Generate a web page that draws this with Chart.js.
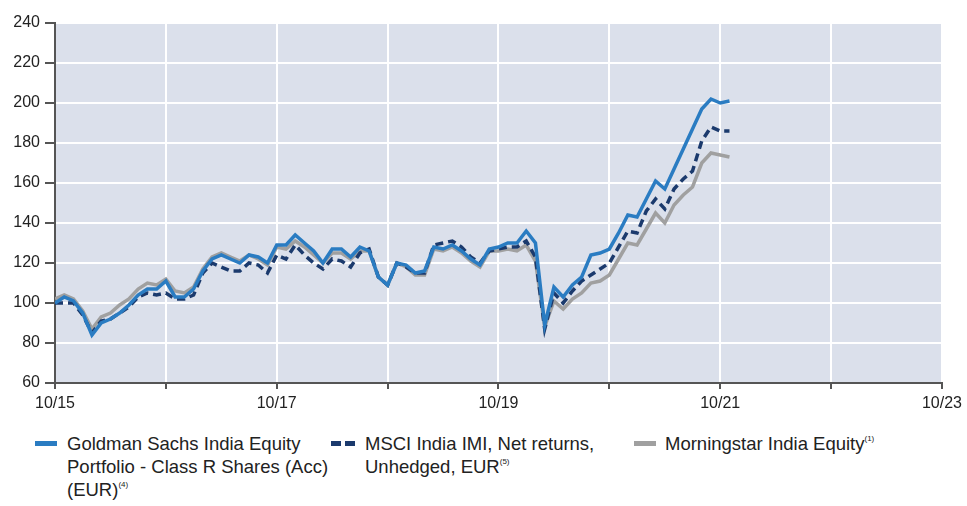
<!DOCTYPE html>
<html>
<head>
<meta charset="utf-8">
<script src="https://cdn.jsdelivr.net/npm/chart.js@4.4.0/dist/chart.umd.min.js"></script>
<style>
  body { margin: 0; background: #fff; }
  #wrap { position: relative; width: 967px; height: 506px; }
  #legend { position: absolute; left: 0; top: 432px; width: 967px; font-family: "Liberation Sans Narrow", "Liberation Sans", sans-serif; font-size: 18.5px; color: #222; }
  .item { position: absolute; top: 0; line-height: 23px; }
  .item sup { font-size: 8px; vertical-align: 9px; line-height: 0; }
  .swatch { position: absolute; top: 9px; height: 5px; }
</style>
</head>
<body>
<div id="wrap">
  <canvas id="canvas" width="967" height="420"></canvas>
  <div id="legend">
    <div class="swatch" style="left:35px;width:22px;background:#2a7cc2"></div>
    <div class="item" style="left:67px">Goldman Sachs India Equity<br>Portfolio - Class R Shares (Acc)<br>(EUR)<sup>(4)</sup></div>
    <div class="swatch" style="left:331px;width:10px;background:#1b3a6d"></div>
    <div class="swatch" style="left:345px;width:10px;background:#1b3a6d"></div>
    <div class="item" style="left:365px">MSCI India IMI, Net returns,<br>Unhedged, EUR<sup>(5)</sup></div>
    <div class="swatch" style="left:634px;width:22px;background:#a0a0a0"></div>
    <div class="item" style="left:665px">Morningstar India Equity<sup>(1)</sup></div>
  </div>
</div>
<script>
// monthly values, first point = 10/15, last = 11/21
const tickLabels = ['10/15', '10/17', '10/19', '10/21', '10/23']

const goldman = [100, 103, 101, 95, 84, 90, 92, 95, 99, 104, 107, 107,
  111, 103, 103, 107, 116, 122, 124, 122, 120, 124, 123, 120,
  129, 129, 134, 130, 126, 120, 127, 127, 123, 128, 126, 113,
  109, 120, 119, 115, 116, 128, 127, 129, 126, 122, 119, 127,
  128, 130, 130, 136, 130, 89, 108, 103, 109, 113, 124, 125,
  127, 135, 144, 143, 152, 161, 157, 167, 177, 187, 197, 202,
  200, 201]

const msci = [100, 100, 100, 94, 85, 91, 92, 95, 98, 103, 105, 104,
  105, 102, 102, 104, 115, 120, 118, 116, 116, 120, 119, 115,
  124, 122, 129, 124, 120, 117, 122, 121, 118, 125, 127, 113,
  109, 120, 118, 115, 115, 129, 130, 131, 128, 123, 120, 126,
  127, 128, 128, 131, 123, 87, 105, 100, 106, 111, 114, 117,
  120, 128, 136, 135, 146, 152, 147, 157, 162, 166, 181, 188,
  186, 186]

const morningstar = [102, 104, 102, 96, 87, 93, 95, 99, 102, 107, 110, 109,
  112, 106, 105, 108, 117, 123, 125, 123, 121, 124, 122, 119,
  128, 127, 131, 128, 124, 120, 125, 125, 122, 126, 126, 113,
  109, 120, 118, 114, 114, 127, 126, 128, 125, 121, 118, 126,
  126, 127, 126, 129, 121, 88, 101, 97, 102, 105, 110, 111,
  114, 122, 130, 129, 137, 145, 140, 149, 154, 158, 170, 175,
  174, 173]

function toPoints(arr) {
  return arr.map(function (v, i) { return { x: i, y: v } })
}

const plotBg = {
  id: 'plotBg',
  beforeDraw: function (chart) {
    const a = chart.chartArea
    const ctx = chart.ctx
    ctx.save()
    ctx.fillStyle = '#dbe0eb'
    ctx.fillRect(a.left, a.top, a.right - a.left, a.bottom - a.top)
    ctx.restore()
  }
}

const tickFont = { family: "'Liberation Sans Narrow', 'Liberation Sans', sans-serif", size: 16 }

const data = {
  datasets: [
    {
      label: 'Goldman Sachs India Equity Portfolio - Class R Shares (Acc) (EUR)',
      data: toPoints(goldman),
      borderColor: '#2a7cc2',
      borderWidth: 3.5,
      pointRadius: 0,
      order: 1,
    },
    {
      label: 'MSCI India IMI, Net returns, Unhedged, EUR',
      data: toPoints(msci),
      borderColor: '#1b3a6d',
      borderWidth: 3.5,
      borderDash: [8, 5],
      pointRadius: 0,
      order: 2,
    },
    {
      label: 'Morningstar India Equity',
      data: toPoints(morningstar),
      borderColor: '#a0a0a0',
      borderWidth: 3.5,
      pointRadius: 0,
      order: 3,
    },
  ],
}

const config = {
  type: 'line',
  data: data,
  options: {
    responsive: false,
    animation: false,
    layout: { padding: { top: 23, right: 22, left: 0, bottom: 0 } },
    plugins: { legend: { display: false }, tooltip: { enabled: false } },
    scales: {
      x: {
        type: 'linear',
        min: 0,
        max: 96,
        afterFit: function (s) { s.height = 37 },
        ticks: {
          stepSize: 12,
          autoSkip: false,
          maxRotation: 0,
          padding: 5,
          color: '#222',
          font: tickFont,
          callback: function (v) { return v % 24 === 0 ? tickLabels[v / 24] : '' }
        },
        grid: { color: '#ffffff', lineWidth: 2, tickColor: '#555', tickLength: 6, drawTicks: true },
        border: { display: true, color: '#555', width: 2 },
      },
      y: {
        min: 60,
        max: 240,
        afterFit: function (s) { s.width = 55 },
        ticks: { stepSize: 20, padding: 5, color: '#222', font: tickFont },
        grid: { color: '#ffffff', lineWidth: 2, tickColor: '#555', tickLength: 10, drawTicks: true },
        border: { display: true, color: '#555', width: 2 },
      },
    },
  },
  plugins: [plotBg],
}

const canvas = document.getElementById('canvas')
const chart = new Chart(canvas, config)
</script>
</body>
</html>
